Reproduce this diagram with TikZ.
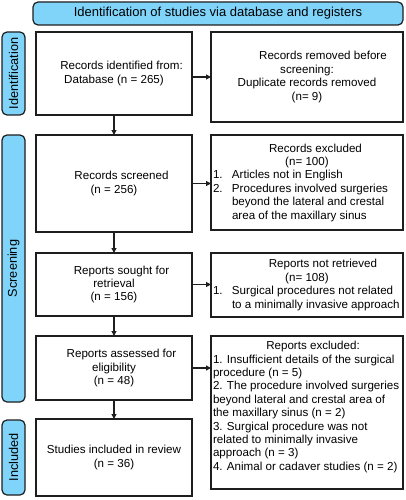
\documentclass[tikz,border=0pt]{standalone}
\usepackage{fontspec}
\setmainfont{Liberation Sans}
\usetikzlibrary{arrows.meta}
\definecolor{sideblue}{HTML}{80D4FA}
\definecolor{edge}{HTML}{1E1E1E}
\newcommand\rowl[1]{\makebox[188pt][l]{#1}}
\newcommand\rowc[1]{\makebox[188pt][c]{#1}}
\begin{document}
\begin{tikzpicture}[x=1pt,y=-1pt,
  box/.style={draw=edge,line width=1.2pt,fill=white,inner sep=0pt,outer sep=0pt,
    font=\fontsize{11.6}{13.4}\selectfont,align=center},
  rbox/.style={box,align=left},
  bluebox/.style={draw=edge,line width=1.2pt,fill=sideblue,rounded corners=5pt,inner sep=0pt,outer sep=0pt},
  sidelabel/.style={bluebox,rotate=90,font=\fontsize{12.7}{14}\selectfont},
  txt/.style={inner sep=0pt,font=\fontsize{11.6}{13.4}\selectfont,align=left},
  arr/.style={draw=edge,line width=1.1pt,-{Triangle[length=5pt,width=5pt]}}
]
\useasboundingbox (0,0) rectangle (406,500);

% banner
\node[bluebox,minimum width=370pt,minimum height=23pt,font=\fontsize{13}{15}\selectfont] (ban) at (218,13.5)
  {Identification of studies via database and registers};

% side labels
\node[sidelabel,minimum width=83pt,minimum height=23pt] (s1) at (13.5,73.5) {Identification};
\node[sidelabel,minimum width=267pt,minimum height=23pt] (s2) at (13.5,268.5) {Screening};
\node[sidelabel,minimum width=75pt,minimum height=23pt] (s3) at (13.5,457.5) {Included};

% left boxes
\node[box,minimum width=156pt,minimum height=83pt] (b1) at (114,73.5)
  {\hspace*{15pt}Records identified from:\\Database (n = 265)};
\node[box,minimum width=156pt,minimum height=97pt] (b2) at (114,183.5)
  {\hspace*{15pt}Records screened\\(n = 256)};
\node[box,minimum width=156pt,minimum height=63pt] (b3) at (114,284.5)
  {\hspace*{15pt}Reports sought for\\retrieval\\(n = 156)};
\node[box,minimum width=156pt,minimum height=64pt] (b4) at (114,368)
  {\hspace*{15pt}Reports assessed for\\eligibility\hspace*{8pt}\\(n = 48)};
\node[box,minimum width=156pt,minimum height=77pt] (b5) at (114,457.5)
  {Studies included in review\\(n = 36)};

% right boxes
\node[rbox,minimum width=192pt,minimum height=90pt] (r1) at (307,77)
  {\rowc{\hspace*{32pt}Records removed before}\\
   \rowc{screening:}\\
   \rowc{Duplicate records removed}\\
   \rowc{(n= 9)}};
\node[rbox,minimum width=192pt,minimum height=95pt] (r2) at (307,182.5)
  {\rowc{\hspace*{17pt}Records excluded}\\
   \rowc{(n= 100)}\\
   \rowl{\makebox[19pt][l]{1.}Articles not in English}\\
   \rowl{\makebox[19pt][l]{2.}Procedures involved surgeries}\\
   \rowl{\hspace*{19pt}beyond the lateral and crestal}\\
   \rowl{\hspace*{19pt}area of the maxillary sinus}};
\node[rbox,minimum width=192pt,minimum height=64pt] (r3) at (307,285)
  {\rowc{\hspace*{32pt}Reports not retrieved}\\
   \rowc{(n= 108)}\\
   \rowl{\makebox[19pt][l]{1.}Surgical procedures not related}\\
   \rowl{\hspace*{19pt}to a minimally invasive approach}};
\node[box,minimum width=192pt,minimum height=153pt] (r4) at (307,412.5) {};
\node[txt] (r4t) at ([yshift=5.5pt]r4.center)
  {\rowc{\hspace*{12pt}Reports excluded:}\\
   \rowl{1. Insufficient details of the surgical}\\
   \rowl{procedure (n = 5)}\\
   \rowl{2. The procedure involved surgeries}\\
   \rowl{beyond lateral and crestal area of}\\
   \rowl{the maxillary sinus (n = 2)}\\
   \rowl{3. Surgical procedure was not}\\
   \rowl{related to minimally invasive}\\
   \rowl{approach (n = 3)}\\
   \rowl{4. Animal or cadaver studies (n = 2)}};

% arrows
\draw[arr] (b1) -- (b2);
\draw[arr] (b2) -- (b3);
\draw[arr] (b3) -- (b4);
\draw[arr] (b4) -- (b5);
\draw[arr] ([yshift=-3.5pt]b1.east) -- ([yshift=-3.5pt]b1.east -| r1.west);
\draw[arr] (b2.east) -- (b2.east -| r2.west);
\draw[arr] (b3.east) -- (b3.east -| r3.west);
\draw[arr] (b4.east) -- (b4.east -| r4.west);
\end{tikzpicture}
\end{document}
